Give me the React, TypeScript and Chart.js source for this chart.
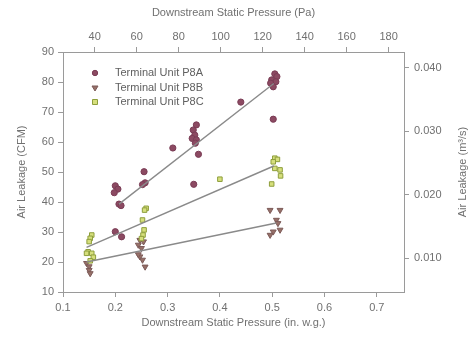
import { useEffect, useRef } from 'react';
import { Chart, registerables } from 'chart.js';

Chart.register(...registerables);

// Downstream static pressure (in. w.g.) vs air leakage (CFM)
const P8A_X = [0.2, 0.205, 0.198, 0.207, 0.211, 0.2, 0.212, 0.255, 0.257, 0.252, 0.31, 0.355, 0.349, 0.352, 0.347, 0.355, 0.353, 0.359, 0.35, 0.44, 0.505, 0.509, 0.499, 0.507, 0.497, 0.502, 0.502];
const P8A_Y = [45.4, 44.3, 43.1, 39.3, 38.8, 30.1, 28.4, 50.1, 46.4, 45.8, 58.0, 65.7, 64.0, 62.3, 61.2, 60.7, 59.6, 55.9, 45.9, 73.3, 82.7, 81.8, 80.7, 80.1, 79.6, 78.4, 67.6];

const P8B_X = [0.145, 0.15, 0.15, 0.152, 0.247, 0.254, 0.244, 0.25, 0.247, 0.252, 0.257, 0.244, 0.496, 0.515, 0.508, 0.511, 0.515, 0.502, 0.496];
const P8B_Y = [19.6, 18.5, 17.3, 16.2, 27.3, 26.8, 25.7, 24.6, 21.8, 20.7, 18.4, 22.5, 37.3, 37.3, 34.0, 32.9, 30.7, 30.1, 29.0];

const P8C_X = [0.155, 0.152, 0.15, 0.148, 0.155, 0.145, 0.158, 0.152, 0.259, 0.256, 0.252, 0.255, 0.253, 0.25, 0.4, 0.505, 0.51, 0.502, 0.515, 0.516, 0.499, 0.505];
const P8C_Y = [29.0, 27.9, 26.8, 23.4, 22.9, 22.9, 21.6, 20.4, 37.9, 37.3, 34.0, 30.7, 29.0, 27.8, 47.6, 54.6, 54.2, 53.4, 50.7, 48.7, 46.0, 51.2];

// Fitted trend lines (end points)
const FIT_A_X = [0.207, 0.503];
const FIT_A_Y = [39.3, 79.5];
const FIT_B_X = [0.145, 0.508];
const FIT_B_Y = [20.0, 33.0];
const FIT_C_X = [0.145, 0.503];
const FIT_C_Y = [24.9, 52.0];

const SERIES_NAMES = ['Terminal Unit P8A', 'Terminal Unit P8B', 'Terminal Unit P8C'];

const X_TICKS = [0.1, 0.2, 0.3, 0.4, 0.5, 0.6, 0.7];
const PA_TICKS = [40, 60, 80, 100, 120, 140, 160, 180];
const Y_TICKS = [10, 20, 30, 40, 50, 60, 70, 80, 90];
const M3S_TICKS = [0.01, 0.02, 0.03, 0.04];

const IN_TO_PA = 249.089;
const CFM_TO_M3S = 0.000471947;
const X_MIN = 0.1;
const X_MAX = 0.752;
const Y_MIN = 10;
const Y_MAX = 90;

const FONT = '"Liberation Sans", Arial, sans-serif';
const AXIS_COLOR = '#9a9a9a';
const TEXT_COLOR = '#707070';

const pts = (xs: number[], ys: number[]) => xs.map((x, i) => ({ x, y: ys[i] }));

const STYLE_A = { pointStyle: 'circle', radius: 3.1, rotation: 0, bg: '#8c4a62', border: '#7a3c55' };
const STYLE_B = { pointStyle: 'triangle', radius: 3.4, rotation: 180, bg: '#977068', border: '#7c5a58' };
const STYLE_C = { pointStyle: 'rect', radius: 3.2, rotation: 0, bg: '#d6df7c', border: '#8e9e3c' };

const legendPlugin = {
  id: 'insideLegend',
  afterDraw(chart: any) {
    const ctx = chart.ctx;
    const styles = [STYLE_A, STYLE_B, STYLE_C];
    const rowsY = [73, 88, 102];
    ctx.save();
    styles.forEach((s, i) => {
      const y = rowsY[i];
      const x = 95;
      ctx.fillStyle = s.bg;
      ctx.strokeStyle = s.border;
      ctx.lineWidth = 1;
      ctx.beginPath();
      if (s.pointStyle === 'circle') {
        ctx.arc(x, y, 2.7, 0, Math.PI * 2);
      } else if (s.pointStyle === 'triangle') {
        ctx.moveTo(x - 3, y - 2);
        ctx.lineTo(x + 3, y - 2);
        ctx.lineTo(x, y + 3);
        ctx.closePath();
      } else {
        ctx.rect(x - 2.5, y - 2.5, 5, 5);
      }
      ctx.fill();
      ctx.stroke();
      ctx.fillStyle = '#606060';
      ctx.font = `11px ${FONT}`;
      ctx.textAlign = 'left';
      ctx.textBaseline = 'middle';
      ctx.fillText(SERIES_NAMES[i], 115, y);
    });
    // right axis title, reading bottom-to-top
    const area = chart.chartArea;
    ctx.translate(463, (area.top + area.bottom) / 2);
    ctx.rotate(-Math.PI / 2);
    ctx.fillStyle = TEXT_COLOR;
    ctx.font = `11px ${FONT}`;
    ctx.textAlign = 'center';
    ctx.textBaseline = 'middle';
    ctx.fillText('Air Leakage (m\u00B3/s)', 0, 0);
    ctx.restore();
  },
};

const gridOpts = {
  drawOnChartArea: false,
  drawTicks: true,
  tickLength: 5,
  color: AXIS_COLOR,
  tickColor: AXIS_COLOR,
};
const borderOpts = { display: true, color: AXIS_COLOR, width: 1 };
const tickFont = { family: FONT, size: 11 };
const titleFont = { family: FONT, size: 11 };

export default function App() {
  const ref = useRef<HTMLCanvasElement | null>(null);

  useEffect(() => {
    if (!ref.current) return;
    const scatter = (label: string, xs: number[], ys: number[], s: any) => ({
      type: 'scatter' as const,
      label,
      data: pts(xs, ys),
      xAxisID: 'x',
      yAxisID: 'y',
      pointStyle: s.pointStyle,
      pointRadius: s.radius,
      pointRotation: s.rotation,
      pointBackgroundColor: s.bg,
      pointBorderColor: s.border,
      pointBorderWidth: 1,
      showLine: false,
    });
    const fit = (xs: number[], ys: number[]) => ({
      type: 'line' as const,
      label: 'fit',
      data: pts(xs, ys),
      xAxisID: 'x',
      yAxisID: 'y',
      borderColor: '#8a8a8a',
      borderWidth: 1.4,
      pointRadius: 0,
      fill: false,
      tension: 0,
    });

    const chart = new Chart(ref.current, {
      type: 'scatter',
      data: {
        datasets: [
          fit(FIT_A_X, FIT_A_Y),
          fit(FIT_B_X, FIT_B_Y),
          fit(FIT_C_X, FIT_C_Y),
          scatter(SERIES_NAMES[2], P8C_X, P8C_Y, STYLE_C),
          scatter(SERIES_NAMES[1], P8B_X, P8B_Y, STYLE_B),
          scatter(SERIES_NAMES[0], P8A_X, P8A_Y, STYLE_A),
        ] as any,
      },
      options: {
        animation: false,
        responsive: true,
        maintainAspectRatio: false,
        layout: { padding: 0 },
        plugins: {
          legend: { display: false },
          tooltip: { enabled: false },
        },
        scales: {
          x: {
            type: 'linear',
            position: 'bottom',
            min: X_MIN,
            max: X_MAX,
            grid: gridOpts,
            border: borderOpts,
            afterBuildTicks: (s: any) => {
              s.ticks = X_TICKS.map((v) => ({ value: v }));
            },
            afterFit: (s: any) => {
              s.height = 51;
            },
            ticks: {
              color: TEXT_COLOR,
              font: tickFont,
              padding: 4,
              maxRotation: 0,
              callback: (v: any) => Number(v).toFixed(1),
            },
            title: {
              display: true,
              text: 'Downstream Static Pressure (in. w.g.)',
              color: TEXT_COLOR,
              font: titleFont,
              padding: { top: 0, bottom: 13 },
            },
          },
          x2: {
            type: 'linear',
            position: 'top',
            min: X_MIN * IN_TO_PA,
            max: X_MAX * IN_TO_PA,
            grid: gridOpts,
            border: borderOpts,
            afterBuildTicks: (s: any) => {
              s.ticks = PA_TICKS.map((v) => ({ value: v }));
            },
            afterFit: (s: any) => {
              s.height = 52;
            },
            ticks: {
              color: TEXT_COLOR,
              font: tickFont,
              padding: 3,
              maxRotation: 0,
              callback: (v: any) => String(Math.round(Number(v))),
            },
            title: {
              display: true,
              text: 'Downstream Static Pressure (Pa)',
              color: TEXT_COLOR,
              font: titleFont,
              padding: { top: 6, bottom: 0 },
            },
          },
          y: {
            type: 'linear',
            position: 'left',
            min: Y_MIN,
            max: Y_MAX,
            grid: gridOpts,
            border: borderOpts,
            afterBuildTicks: (s: any) => {
              s.ticks = Y_TICKS.map((v) => ({ value: v }));
            },
            afterFit: (s: any) => {
              s.width = 63;
            },
            ticks: {
              color: TEXT_COLOR,
              font: tickFont,
              padding: 4,
              callback: (v: any) => String(Math.round(Number(v))),
            },
            title: {
              display: true,
              text: 'Air Leakage (CFM)',
              color: TEXT_COLOR,
              font: titleFont,
              padding: { top: 15, bottom: 0 },
            },
          },
          y2: {
            type: 'linear',
            position: 'right',
            min: Y_MIN * CFM_TO_M3S,
            max: Y_MAX * CFM_TO_M3S,
            grid: gridOpts,
            border: borderOpts,
            afterBuildTicks: (s: any) => {
              s.ticks = M3S_TICKS.map((v) => ({ value: v }));
            },
            afterFit: (s: any) => {
              s.width = 71;
            },
            ticks: {
              color: TEXT_COLOR,
              font: tickFont,
              padding: 5,
              callback: (v: any) => Number(v).toFixed(3),
            },
            title: { display: false },
          },
        },
      },
      plugins: [legendPlugin],
    });
    return () => chart.destroy();
  }, []);

  return (
    <div style={{ position: 'absolute', left: 0, top: 0, width: 475, height: 343, background: '#fff' }}>
      <canvas ref={ref} />
    </div>
  );
}
